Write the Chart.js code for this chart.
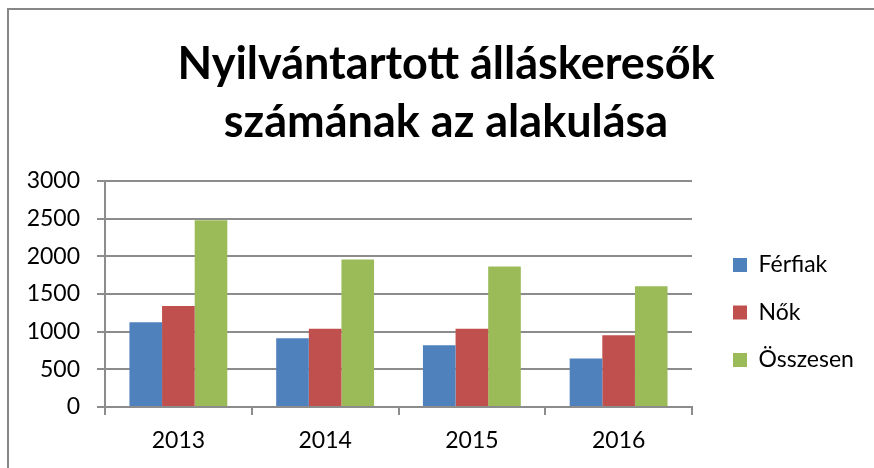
<!DOCTYPE html>
<html>
<head>
<meta charset="utf-8">
<script src="https://cdn.jsdelivr.net/npm/chart.js@4.4.1/dist/chart.umd.min.js"></script>
<style>
  html, body { margin: 0; padding: 0; background: #fff; overflow: hidden; }
  #wrap { position: relative; width: 874px; height: 468px; }
  #frame { position: absolute; left: 7px; top: 8px; width: 1000px; height: 1000px; border: 2px solid #878787; box-sizing: border-box; }
  #chart { position: absolute; left: 0; top: 0; }
</style>
</head>
<body>
<div id="wrap">
  <div id="frame"></div>
  <canvas id="chart" width="874" height="468"></canvas>
</div>
<script>
const labels = ["2013", "2014", "2015", "2016"];
const ferfiak = [1125, 912, 820, 643];
const nok = [1342, 1040, 1040, 952];
const osszesen = [2478, 1957, 1864, 1602];
const seriesNames = ["Férfiak", "Nők", "Összesen"];
const colors = ["#4F81BD", "#C0504D", "#9BBB59"];
const titleLines = ["Nyilvántartott álláskeresők", "számának az alakulása"];

const FONT = "Lato, 'Open Sans', sans-serif";
const gridColor = "#8c8c8c";
const LEG_PAD = 24.5;

// keep the legend 182px wide and put its rows where Excel has them
const legendSpot = {
  id: "legendSpot",
  beforeLayout(chart) {
    const lg = chart.legend;
    if (lg && !lg._fixed) {
      const fit = lg.fit;
      lg.fit = function () { fit.call(this); this.width = 182; };
      lg._fixed = true;
    }
  },
  afterLayout(chart) {
    const lg = chart.legend;
    if (!lg || !lg.columnSizes || !lg.columnSizes.length) return;
    const colH = lg.columnSizes[0].height;
    const y0 = 253.5;
    lg.left = 733 - LEG_PAD;
    lg.right = lg.left + 182;
    lg.top = y0 - LEG_PAD;
    lg.bottom = y0 + colH;
  }
};

new Chart(document.getElementById("chart"), {
  type: "bar",
  data: {
    labels,
    datasets: [
      { label: seriesNames[0], data: ferfiak, backgroundColor: colors[0] },
      { label: seriesNames[1], data: nok, backgroundColor: colors[1] },
      { label: seriesNames[2], data: osszesen, backgroundColor: colors[2] }
    ]
  },
  options: {
    responsive: false,
    animation: false,
    devicePixelRatio: 1,
    layout: { padding: { left: 18, right: 0, top: 0, bottom: 0 } },
    datasets: { bar: { categoryPercentage: 0.667, barPercentage: 1 } },
    plugins: {
      legend: {
        position: "right",
        align: "center",
        labels: { boxWidth: 14, boxHeight: 14, padding: LEG_PAD, color: "#000", font: { family: FONT, size: 23 } }
      },
      tooltip: { enabled: false },
      title: {
        display: true,
        text: titleLines,
        color: "#000",
        font: { family: FONT, size: 45, weight: "bold", lineHeight: 1.3 },
        padding: { top: 35, bottom: 29 },
        align: "center"
      }
    },
    scales: {
      x: {
        afterFit: s => { s.height = 61; },
        grid: { display: true, drawOnChartArea: false, drawTicks: true, tickLength: 8, color: gridColor, lineWidth: 2 },
        border: { display: true, color: gridColor, width: 2 },
        ticks: { color: "#000", padding: 12, font: { family: FONT, size: 23 } }
      },
      y: {
        min: 0,
        max: 3000,
        afterFit: s => { s.width = 87; },
        ticks: { stepSize: 500, color: "#000", padding: 17, font: { family: FONT, size: 23 }, callback: v => String(v) },
        grid: { color: gridColor, lineWidth: 2, tickLength: 8 },
        border: { display: true, color: gridColor, width: 2 }
      }
    }
  },
  plugins: [legendSpot]
});
</script>
</body>
</html>
